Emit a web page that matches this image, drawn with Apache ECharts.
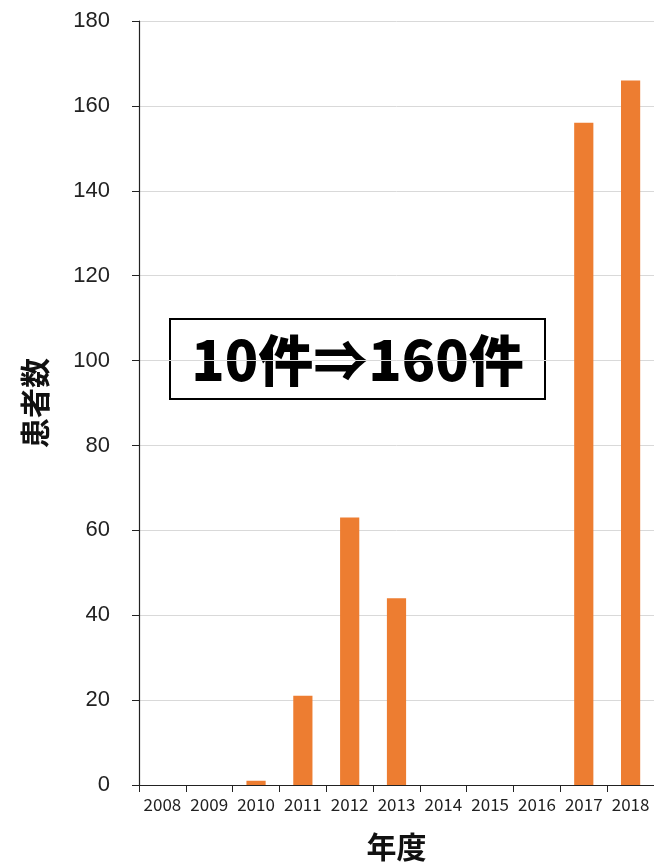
<!DOCTYPE html>
<html>
<head>
<meta charset="utf-8">
<script src="https://cdn.jsdelivr.net/npm/echarts@6/dist/echarts.min.js"></script>
<style>
  html, body { margin: 0; padding: 0; background: #fff; }
  #chart { width: 654px; height: 864px; }
</style>
</head>
<body>
<div id="chart"></div>
<script>
// Patients per fiscal year
const years = ['2008', '2009', '2010', '2011', '2012', '2013', '2014', '2015', '2016', '2017', '2018'];
const patients = [0, 0, 1, 21, 63, 44, 0, 0, 0, 156, 166];
const yTicks = { min: 0, max: 180, interval: 20 };
const calloutText = '10件⇒160件';

const chart = echarts.init(document.getElementById('chart'), null, { renderer: 'canvas' });

chart.setOption({
  animation: false,
  grid: { left: 139, right: 0, top: 21, bottom: 79, containLabel: false, outerBoundsMode: 'none' },
  xAxis: {
    type: 'category',
    data: years,
    name: '年度',
    nameLocation: 'middle',
    nameGap: 47,
    nameTextStyle: { fontFamily: 'Noto Sans CJK JP', fontWeight: 'bold', fontSize: 30, color: '#111' },
    axisLine: { lineStyle: { color: '#222', width: 1.2 } },
    axisTick: { show: true, length: 7, alignWithLabel: false, lineStyle: { color: '#222' } },
    axisLabel: { fontFamily: 'Noto Sans CJK JP', fontSize: 17, color: '#222', margin: 11, interval: 0 }
  },
  yAxis: {
    type: 'value',
    min: yTicks.min,
    max: yTicks.max,
    interval: yTicks.interval,
    name: '患者数',
    nameLocation: 'middle',
    nameGap: 89,
    nameRotate: 90,
    nameTextStyle: { fontFamily: 'Noto Sans CJK JP', fontWeight: 'bold', fontSize: 30, color: '#111' },
    axisLine: { show: true, lineStyle: { color: '#222', width: 1.2 } },
    axisTick: { show: true, length: 7, lineStyle: { color: '#222' } },
    axisLabel: { fontFamily: 'Liberation Sans', fontSize: 22, color: '#222', margin: 29 },
    splitLine: { show: true, lineStyle: { color: '#d9d9d9', width: 1 } }
  },
  series: [{
    type: 'bar',
    data: patients,
    barWidth: '41%',
    itemStyle: { color: '#ED7D31' }
  }],
  graphic: [{
    type: 'group',
    left: 169,
    top: 318,
    children: [
      {
        type: 'rect',
        shape: { x: 0, y: 0, width: 375, height: 80 },
        style: { fill: '#fff', stroke: '#000', lineWidth: 2 }
      },
      {
        type: 'text',
        x: 187.5,
        y: 41,
        style: {
          text: calloutText,
          align: 'center',
          verticalAlign: 'middle',
          font: '900 55px "Noto Sans CJK JP"',
          fill: '#000'
        }
      }
    ]
  }]
});
</script>
</body>
</html>
